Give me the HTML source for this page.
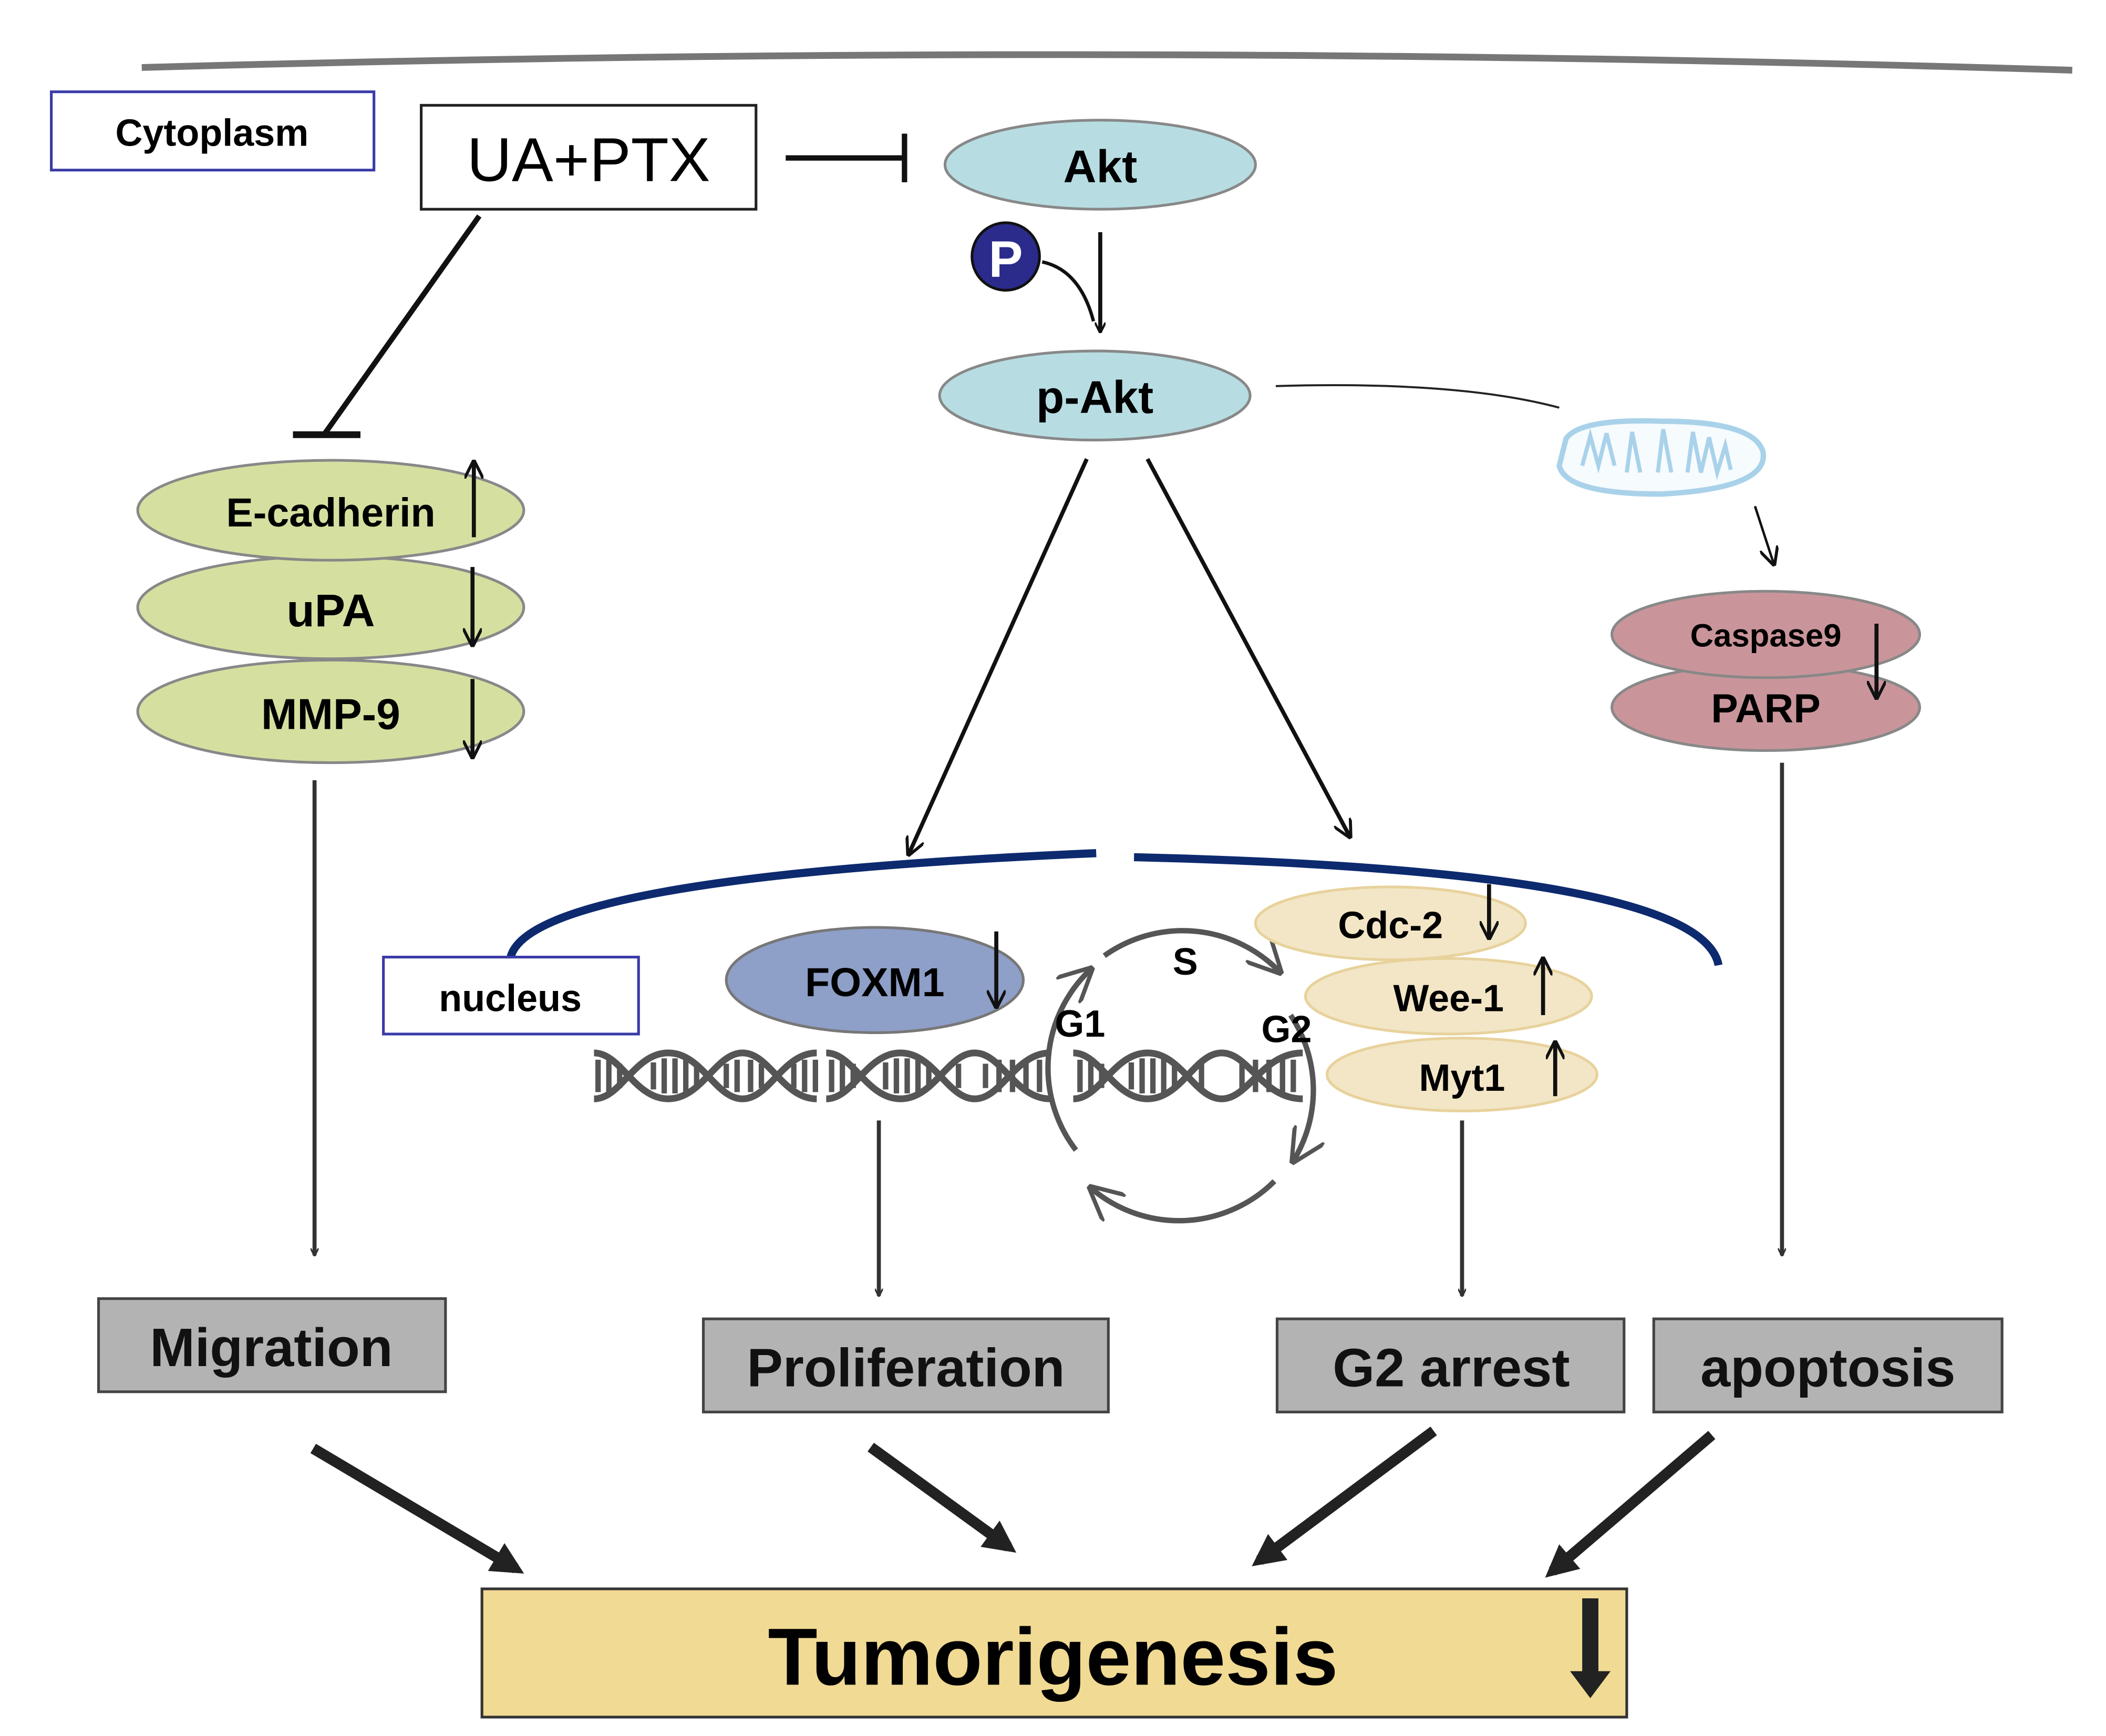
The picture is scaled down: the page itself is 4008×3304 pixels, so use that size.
<!DOCTYPE html>
<html><head><meta charset="utf-8"><style>
html,body{margin:0;padding:0;background:#fff;}
svg{display:block;}
text{font-family:"Liberation Sans",sans-serif;}
</style></head><body>
<svg width="4008" height="3304" viewBox="0 0 1560 1286" preserveAspectRatio="none" xmlns="http://www.w3.org/2000/svg">
<defs>
<marker id="ah" viewBox="0 0 10 10" refX="9" refY="5" markerWidth="8" markerHeight="8" orient="auto" markerUnits="userSpaceOnUse">
<path d="M0,0 L10,5 L0,10" fill="none" stroke="#111" stroke-width="2"/></marker>
<marker id="ahs" viewBox="0 0 10 10" refX="9" refY="5" markerWidth="14" markerHeight="14" orient="auto" markerUnits="userSpaceOnUse">
<path d="M0,0 L10,5 L0,10" fill="none" stroke="#111" stroke-width="1.6"/></marker>
<marker id="aht" viewBox="0 0 10 10" refX="9" refY="5" markerWidth="6" markerHeight="6" orient="auto" markerUnits="userSpaceOnUse">
<path d="M0,0 L10,5 L0,10" fill="none" stroke="#333" stroke-width="2"/></marker>
<marker id="ahg" viewBox="0 0 10 10" refX="9" refY="5" markerWidth="26" markerHeight="26" orient="auto" markerUnits="userSpaceOnUse">
<path d="M0,0 L10,5 L0,10" fill="none" stroke="#555" stroke-width="1.2"/></marker>
<marker id="ahb" viewBox="0 0 10 10" refX="7" refY="5" markerWidth="3" markerHeight="3" orient="auto">
<path d="M0,0 L10,5 L0,10 Z" fill="#222"/></marker>
</defs>
<!-- top membrane -->
<path d="M105,50 Q820,30 1535,52" fill="none" stroke="#777" stroke-width="5"/>
<!-- cytoplasm -->
<rect x="38" y="68" width="239" height="58" fill="#fff" stroke="#3a3aa8" stroke-width="2"/>
<text x="157" y="108" font-size="28" font-weight="bold" text-anchor="middle">Cytoplasm</text>
<rect x="312" y="78" width="248" height="77" fill="#fff" stroke="#222" stroke-width="2"/>
<text x="436" y="134" font-size="46" text-anchor="middle">UA+PTX</text>
<line x1="582" y1="117" x2="670" y2="117" stroke="#111" stroke-width="4"/>
<line x1="670" y1="99" x2="670" y2="135" stroke="#111" stroke-width="4"/>
<!-- Akt -->
<ellipse cx="815" cy="122" rx="115" ry="33" fill="#b7dde2" stroke="#888" stroke-width="2"/>
<text x="815" y="135" font-size="34" font-weight="bold" text-anchor="middle">Akt</text>
<circle cx="745" cy="190" r="25" fill="#2b2b8c" stroke="#111" stroke-width="2"/>
<text x="745" y="205" font-size="38" font-weight="bold" fill="#fff" text-anchor="middle">P</text>
<line x1="815" y1="172" x2="815" y2="246" stroke="#111" stroke-width="3" marker-end="url(#ah)"/>
<path d="M772,194 Q800,200 810,238" fill="none" stroke="#111" stroke-width="2.5"/>
<ellipse cx="811" cy="293" rx="115" ry="33" fill="#b7dde2" stroke="#888" stroke-width="2"/>
<text x="811" y="306" font-size="34" font-weight="bold" text-anchor="middle">p-Akt</text>
<path d="M945,286 Q1080,282 1155,302" fill="none" stroke="#222" stroke-width="1.5"/>
<!-- mitochondria -->
<path d="M1160,325 Q1170,310 1230,312 Q1300,312 1306,335 Q1310,362 1230,366 Q1160,366 1155,345 Z" fill="#f6fbfe" stroke="#a9d2ea" stroke-width="4"/>
<path d="M1172,345 l6,-22 l6,22 l6,-24 l6,24 M1205,350 l4,-30 l6,30 M1228,350 l4,-32 l6,32 M1250,350 l4,-30 l6,30 l6,-26 l6,26 l6,-20 l4,18" fill="none" stroke="#a9d2ea" stroke-width="3"/>
<line x1="1300" y1="375" x2="1314" y2="418" stroke="#111" stroke-width="1.8" marker-end="url(#ahs)"/>
<!-- caspase / parp -->
<ellipse cx="1308" cy="524" rx="114" ry="32" fill="#c9959b" stroke="#888" stroke-width="2"/>
<ellipse cx="1308" cy="470" rx="114" ry="32" fill="#c9959b" stroke="#888" stroke-width="2"/>
<text x="1308" y="479" font-size="24" font-weight="bold" text-anchor="middle">Caspase9</text>
<text x="1308" y="535" font-size="30" font-weight="bold" text-anchor="middle">PARP</text>
<line x1="1390" y1="462" x2="1390" y2="517" stroke="#111" stroke-width="3" marker-end="url(#ahs)"/>
<line x1="1320" y1="565" x2="1320" y2="930" stroke="#333" stroke-width="3" marker-end="url(#aht)"/>
<!-- left -->
<line x1="355" y1="160" x2="240" y2="322" stroke="#111" stroke-width="4"/>
<line x1="217" y1="322" x2="267" y2="322" stroke="#111" stroke-width="5"/>
<ellipse cx="245" cy="527" rx="143" ry="38" fill="#d5e0a0" stroke="#888" stroke-width="2"/>
<ellipse cx="245" cy="450" rx="143" ry="38" fill="#d5e0a0" stroke="#888" stroke-width="2"/>
<ellipse cx="245" cy="378" rx="143" ry="37" fill="#d5e0a0" stroke="#888" stroke-width="2"/>
<text x="245" y="390" font-size="30" font-weight="bold" text-anchor="middle">E-cadherin</text>
<text x="245" y="464" font-size="34" font-weight="bold" text-anchor="middle">uPA</text>
<text x="245" y="540" font-size="32" font-weight="bold" text-anchor="middle">MMP-9</text>
<line x1="351" y1="398" x2="351" y2="342" stroke="#111" stroke-width="3" marker-end="url(#ahs)"/>
<line x1="350" y1="420" x2="350" y2="478" stroke="#111" stroke-width="3" marker-end="url(#ahs)"/>
<line x1="350" y1="503" x2="350" y2="561" stroke="#111" stroke-width="3" marker-end="url(#ahs)"/>
<line x1="233" y1="578" x2="233" y2="930" stroke="#333" stroke-width="3" marker-end="url(#aht)"/>
<!-- p-Akt arrows -->
<line x1="805" y1="340" x2="673" y2="633" stroke="#111" stroke-width="3" marker-end="url(#ahs)"/>
<line x1="850" y1="340" x2="1000" y2="620" stroke="#111" stroke-width="3" marker-end="url(#ahs)"/>
<!-- nucleus -->
<path d="M378,710 Q390,650 812,632" fill="none" stroke="#0d2a6e" stroke-width="6"/>
<path d="M840,635 Q1260,645 1273,715" fill="none" stroke="#0d2a6e" stroke-width="6"/>
<rect x="284" y="709" width="189" height="57" fill="#fff" stroke="#3a3aa8" stroke-width="2"/>
<text x="378" y="749" font-size="28" font-weight="bold" text-anchor="middle">nucleus</text>
<!-- DNA -->
<g stroke="#555" fill="none" stroke-width="5">
<path d="M440,780 C460,780 470,814 495,814 C520,814 530,780 550,780 C570,780 580,814 605,814"/>
<path d="M440,814 C460,814 470,780 495,780 C520,780 530,814 550,814 C570,814 580,780 605,780"/>
<path d="M612,780 C632,780 642,814 667,814 C692,814 702,780 722,780 C742,780 752,814 778,814"/>
<path d="M612,814 C632,814 642,780 667,780 C692,780 702,814 722,814 C742,814 752,780 778,780"/>
<path d="M795,780 C815,780 825,814 850,814 C875,814 885,780 905,780 C925,780 935,814 965,814"/>
<path d="M795,814 C815,814 825,780 850,780 C875,780 885,814 905,814 C925,814 935,780 965,780"/>
</g>
<g stroke="#555" stroke-width="4">
<path d="M443,785v24M451,785v24M459,788v18M484,787v20M492,784v26M500,784v26M508,784v26M516,787v20M538,788v18M546,785v24M556,785v24M564,788v18"/>
<path d="M588,788v18M596,785v24M604,785v24M616,785v24M624,785v24M632,788v18M656,787v20M664,784v26M672,784v26M680,784v26M688,787v20M710,788v18M730,788v18M740,785v24M750,785v24M760,785v24M770,785v24"/>
<path d="M800,785v24M808,785v24M816,788v18M838,787v20M846,784v26M854,784v26M862,784v26M870,787v20M890,788v18M920,788v18M930,785v24M940,785v24M950,785v24M958,785v24"/>
</g>
<!-- cell cycle -->
<g fill="none" stroke="#555" stroke-width="4">
<path d="M818,708 A100,100 0 0 1 948,720" marker-end="url(#ahg)"/>
<path d="M956,752 A100,100 0 0 1 958,860" marker-end="url(#ahg)"/>
<path d="M944,875 A100,100 0 0 1 808,880" marker-end="url(#ahg)"/>
<path d="M797,852 A100,100 0 0 1 808,718" marker-end="url(#ahg)"/>
</g>
<text x="878" y="722" font-size="28" font-weight="bold" text-anchor="middle">S</text>
<text x="800" y="768" font-size="28" font-weight="bold" text-anchor="middle">G1</text>
<text x="953" y="772" font-size="28" font-weight="bold" text-anchor="middle">G2</text>
<!-- FOXM1 -->
<ellipse cx="648" cy="726" rx="110" ry="39" fill="#8e9fc8" stroke="#777" stroke-width="2"/>
<text x="648" y="738" font-size="30" font-weight="bold" text-anchor="middle">FOXM1</text>
<line x1="738" y1="690" x2="738" y2="746" stroke="#111" stroke-width="3" marker-end="url(#ahs)"/>
<!-- cdc etc -->
<ellipse cx="1083" cy="796" rx="100" ry="27" fill="#f2e6c6" stroke="#e8d29c" stroke-width="2"/>
<ellipse cx="1073" cy="738" rx="106" ry="28" fill="#f2e6c6" stroke="#e8d29c" stroke-width="2"/>
<ellipse cx="1030" cy="684" rx="100" ry="27" fill="#f2e6c6" stroke="#e8d29c" stroke-width="2"/>
<text x="1030" y="695" font-size="28" font-weight="bold" text-anchor="middle">Cdc-2</text>
<text x="1073" y="749" font-size="28" font-weight="bold" text-anchor="middle">Wee-1</text>
<text x="1083" y="808" font-size="28" font-weight="bold" text-anchor="middle">Myt1</text>
<line x1="1103" y1="655" x2="1103" y2="695" stroke="#111" stroke-width="3" marker-end="url(#ahs)"/>
<line x1="1143" y1="752" x2="1143" y2="710" stroke="#111" stroke-width="3" marker-end="url(#ahs)"/>
<line x1="1152" y1="812" x2="1152" y2="772" stroke="#111" stroke-width="3" marker-end="url(#ahs)"/>
<line x1="651" y1="830" x2="651" y2="960" stroke="#333" stroke-width="3" marker-end="url(#aht)"/>
<line x1="1083" y1="830" x2="1083" y2="960" stroke="#333" stroke-width="3" marker-end="url(#aht)"/>
<!-- outcome boxes -->
<g fill="#b3b3b3" stroke="#444" stroke-width="2">
<rect x="73" y="962" width="257" height="69"/>
<rect x="521" y="977" width="300" height="69"/>
<rect x="946" y="977" width="257" height="69"/>
<rect x="1225" y="977" width="258" height="69"/>
</g>
<g font-size="40" font-weight="bold" text-anchor="middle" fill="#111">
<text x="201" y="1012">Migration</text>
<text x="671" y="1027">Proliferation</text>
<text x="1075" y="1027">G2 arrest</text>
<text x="1354" y="1027">apoptosis</text>
</g>
<g stroke="#222" stroke-width="8" marker-end="url(#ahb)">
<line x1="232" y1="1073" x2="382" y2="1162"/>
<line x1="645" y1="1072" x2="747" y2="1146"/>
<line x1="1062" y1="1060" x2="933" y2="1156"/>
<line x1="1268" y1="1063" x2="1150" y2="1164"/>
</g>
<rect x="357" y="1177" width="848" height="95" fill="#f1da93" stroke="#333" stroke-width="2"/>
<text x="780" y="1248" font-size="60" font-weight="bold" text-anchor="middle">Tumorigenesis</text>
<line x1="1178" y1="1184" x2="1178" y2="1240" stroke="#222" stroke-width="12"/>
<path d="M1163,1238 L1193,1238 L1178,1258 Z" fill="#222"/>
</svg>
</body></html>
